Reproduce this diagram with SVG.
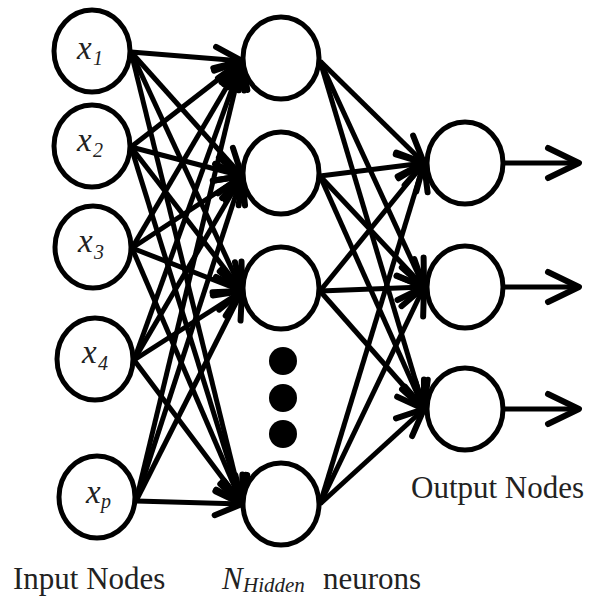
<svg xmlns="http://www.w3.org/2000/svg" width="592" height="597" viewBox="0 0 592 597">
<style>
.node{fill:#fff;stroke:#000;stroke-width:5}
.dot{fill:#000}
.c{stroke:#000;stroke-width:5;fill:none;marker-end:url(#ah)}
.o{stroke:#000;stroke-width:5;fill:none;marker-end:url(#ah2)}
.lab{font-family:"Liberation Serif","Times New Roman",serif;fill:#222}
.it{font-style:italic}
</style>
<defs>
<marker id="ah" viewBox="-35 -20 40 40" refX="0" refY="0" markerWidth="40" markerHeight="40" markerUnits="userSpaceOnUse" orient="auto" overflow="visible">
<path d="M-27,-12 L0,0 L-27,12" fill="none" stroke="#000" stroke-width="6" stroke-linecap="round" stroke-linejoin="round"/>
</marker>
<marker id="ah2" viewBox="-40 -20 45 40" refX="0" refY="0" markerWidth="45" markerHeight="40" markerUnits="userSpaceOnUse" orient="auto" overflow="visible">
<path d="M-31,-15 L0,0 L-31,15" fill="none" stroke="#000" stroke-width="6" stroke-linecap="round" stroke-linejoin="round"/>
</marker>
</defs>
<g id="connectors">
<line class="c" x1="131" y1="52" x2="242" y2="61"/>
<line class="c" x1="131" y1="52" x2="242" y2="176"/>
<line class="c" x1="131" y1="52" x2="242" y2="291"/>
<line class="c" x1="131" y1="52" x2="242" y2="504"/>
<line class="c" x1="131" y1="147" x2="242" y2="61"/>
<line class="c" x1="131" y1="147" x2="242" y2="176"/>
<line class="c" x1="131" y1="147" x2="242" y2="291"/>
<line class="c" x1="131" y1="147" x2="242" y2="504"/>
<line class="c" x1="132" y1="248" x2="242" y2="61"/>
<line class="c" x1="132" y1="248" x2="242" y2="176"/>
<line class="c" x1="132" y1="248" x2="242" y2="291"/>
<line class="c" x1="132" y1="248" x2="242" y2="504"/>
<line class="c" x1="134" y1="360" x2="242" y2="61"/>
<line class="c" x1="134" y1="360" x2="242" y2="176"/>
<line class="c" x1="134" y1="360" x2="242" y2="291"/>
<line class="c" x1="134" y1="360" x2="242" y2="504"/>
<line class="c" x1="136" y1="501" x2="242" y2="61"/>
<line class="c" x1="136" y1="501" x2="242" y2="176"/>
<line class="c" x1="136" y1="501" x2="242" y2="291"/>
<line class="c" x1="136" y1="501" x2="242" y2="504"/>
<line class="c" x1="320" y1="61" x2="424" y2="163"/>
<line class="c" x1="320" y1="61" x2="424" y2="287"/>
<line class="c" x1="320" y1="61" x2="424" y2="409"/>
<line class="c" x1="320" y1="176" x2="424" y2="163"/>
<line class="c" x1="320" y1="176" x2="424" y2="287"/>
<line class="c" x1="320" y1="176" x2="424" y2="409"/>
<line class="c" x1="320" y1="291" x2="424" y2="163"/>
<line class="c" x1="320" y1="291" x2="424" y2="287"/>
<line class="c" x1="320" y1="291" x2="424" y2="409"/>
<line class="c" x1="320" y1="504" x2="424" y2="163"/>
<line class="c" x1="320" y1="504" x2="424" y2="287"/>
<line class="c" x1="320" y1="504" x2="424" y2="409"/>
<line class="o" x1="503" y1="163" x2="579" y2="163"/>
<line class="o" x1="503" y1="287" x2="579" y2="287"/>
<line class="o" x1="503" y1="409" x2="579" y2="409"/>
</g>
<g id="in1"><ellipse class="node" cx="92" cy="51" rx="38" ry="41"/><text class="lab it" x="77" y="59" font-size="33">x</text><text class="lab it" x="93" y="65" font-size="20">1</text></g>
<g id="in2"><ellipse class="node" cx="92" cy="146" rx="38" ry="41"/><text class="lab it" x="77" y="151" font-size="33">x</text><text class="lab it" x="93" y="157" font-size="20">2</text></g>
<g id="in3"><ellipse class="node" cx="93" cy="247" rx="38" ry="41"/><text class="lab it" x="78" y="252" font-size="33">x</text><text class="lab it" x="94" y="259" font-size="20">3</text></g>
<g id="in4"><ellipse class="node" cx="95" cy="359" rx="38" ry="41"/><text class="lab it" x="82" y="363" font-size="33">x</text><text class="lab it" x="98" y="370" font-size="20">4</text></g>
<g id="inp"><ellipse class="node" cx="97" cy="497" rx="38" ry="41"/><text class="lab it" x="86" y="503" font-size="33">x</text><text class="lab it" x="101" y="508" font-size="20">p</text></g>
<g id="h1"><ellipse class="node" cx="281" cy="58" rx="38" ry="41"/></g>
<g id="h2"><ellipse class="node" cx="281" cy="173" rx="38" ry="41"/></g>
<g id="h3"><ellipse class="node" cx="281" cy="288" rx="38" ry="41"/></g>
<g id="dots"><circle class="dot" cx="283" cy="361" r="14"/><circle class="dot" cx="283" cy="398" r="14"/><circle class="dot" cx="283" cy="434" r="14"/></g>
<g id="h4"><ellipse class="node" cx="281" cy="504" rx="38" ry="41"/></g>
<g id="o1"><ellipse class="node" cx="465" cy="163" rx="38" ry="41"/></g>
<g id="o2"><ellipse class="node" cx="465" cy="287" rx="38" ry="41"/></g>
<g id="o3"><ellipse class="node" cx="465" cy="409" rx="38" ry="41"/></g>
<g id="labels">
<text class="lab" x="13" y="589" font-size="31">Input Nodes</text>
<text class="lab it" x="222" y="589" font-size="31">N</text>
<text class="lab it" x="243" y="592" font-size="21">Hidden</text>
<text class="lab" x="323" y="589" font-size="31">neurons</text>
<text class="lab" x="411" y="498" font-size="31">Output Nodes</text>
</g>
</svg>
